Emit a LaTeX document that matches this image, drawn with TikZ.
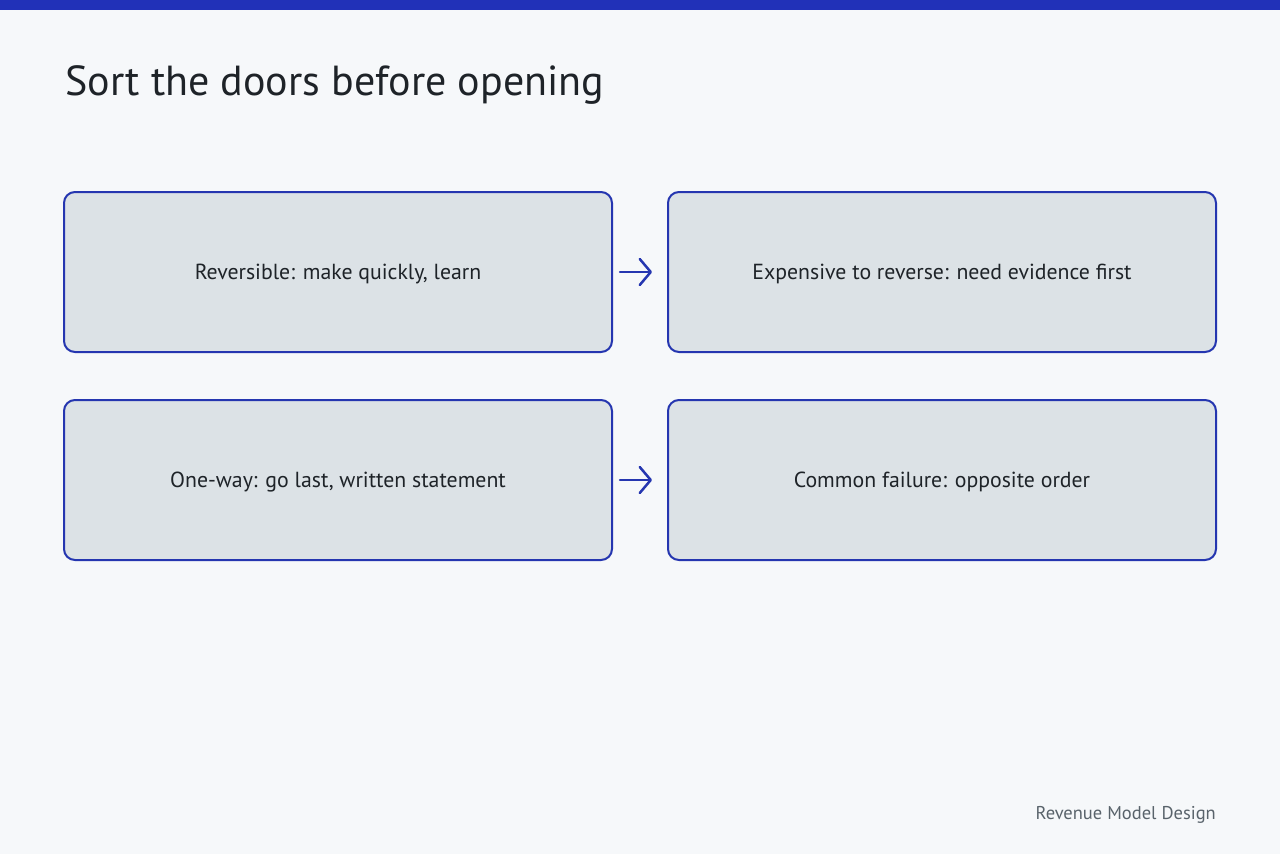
\documentclass[tikz,border=0pt]{standalone}
\usepackage{fontspec}
\setmainfont{PT Sans}
\usetikzlibrary{arrows.meta}
\definecolor{bg}{HTML}{F6F8FA}
\definecolor{barblue}{HTML}{2131B8}
\definecolor{edgeblue}{HTML}{2536B0}
\definecolor{boxfill}{HTML}{DCE2E6}
\definecolor{ink}{HTML}{1E2328}
\definecolor{muted}{HTML}{59636B}
\tikzset{
  card/.style={draw=edgeblue, line width=2pt, fill=boxfill, rounded corners=11pt,
    minimum width=548pt, minimum height=160pt, inner sep=0pt},
  cardtext/.style={anchor=base, inner sep=0pt, text=ink, font=\fontsize{21.8}{26}\selectfont},
  flow/.style={draw=edgeblue, line width=2.5pt, line cap=round, -{Straight Barb[length=11pt,width=26pt,line width=2.5pt,round]}}
}
\begin{document}
\begin{tikzpicture}[x=1pt,y=-1pt]
\useasboundingbox (0,0) rectangle (1280,854);
\fill[bg] (0,0) rectangle (1280,854);
\fill[barblue] (0,0) rectangle (1280,10);
\node[anchor=base west, inner sep=0pt, text=ink, font=\fontsize{42}{48}\selectfont] (title) at (65,95) {Sort the doors before opening};
\node[card] (a) at (338,272) {};
\node[card] (b) at (942,272) {};
\node[card] (c) at (338,480) {};
\node[card] (d) at (942,480) {};
\node[cardtext] (ta) at ([yshift=-7pt]a.center) {Reversible: make quickly, learn};
\node[cardtext] (tb) at ([yshift=-7pt]b.center) {Expensive to reverse: need evidence first};
\node[cardtext] (tc) at ([yshift=-7pt]c.center) {One-way: go last, written statement};
\node[cardtext] (td) at ([yshift=-7pt]d.center) {Common failure: opposite order};
\draw[flow] ([xshift=7pt]a.east) -- ([xshift=-15pt]b.west);
\draw[flow] ([xshift=7pt]c.east) -- ([xshift=-15pt]d.west);
\node[anchor=base east, inner sep=0pt, text=muted, font=\fontsize{18.5}{22}\selectfont] (foot) at (1216,819) {Revenue Model Design};
\end{tikzpicture}
\end{document}
